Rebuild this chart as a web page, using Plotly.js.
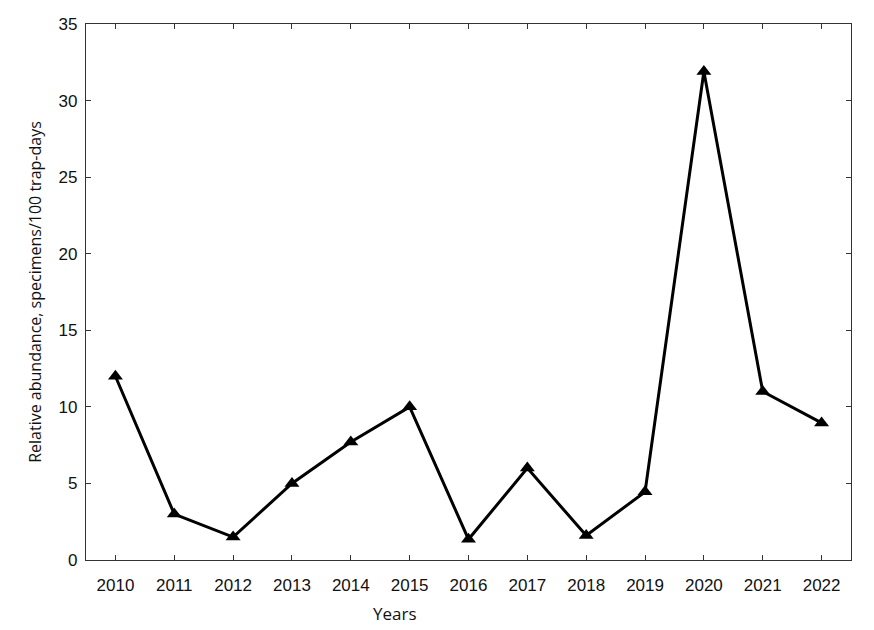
<!DOCTYPE html>
<html>
<head>
<meta charset="utf-8">
<script src="https://cdn.plot.ly/plotly-3.0.1.min.js"></script>
<style>
  html, body { margin: 0; padding: 0; background: #ffffff; }
  #chart { width: 874px; height: 630px; }
</style>
</head>
<body>
<div id="chart"></div>
<script>
const years = [2010, 2011, 2012, 2013, 2014, 2015, 2016, 2017, 2018, 2019, 2020, 2021, 2022];
const abundance = [12, 3, 1.5, 5, 7.7, 10, 1.35, 6, 1.6, 4.45, 31.9, 11, 8.95];
const yTicks = [0, 5, 10, 15, 20, 25, 30, 35];

const trace = {
  type: "scatter",
  mode: "lines+markers",
  x: years,
  y: abundance,
  line: { color: "#000000", width: 3 },
  marker: { symbol: "triangle-up", size: 13, color: "#000000" },
  cliponaxis: false,
  showlegend: false
};

const axisStyle = {
  showline: true,
  linecolor: "#333333",
  linewidth: 1.2,
  mirror: "ticks",
  ticks: "inside",
  ticklen: 5,
  tickcolor: "#333333",
  showgrid: false,
  zeroline: false,
  tickfont: { family: "Liberation Sans, Arial, sans-serif", size: 17, color: "#111111" }
};

const layout = {
  width: 874,
  height: 630,
  paper_bgcolor: "#ffffff",
  plot_bgcolor: "#ffffff",
  margin: { l: 86, r: 23, t: 24, b: 70 },
  xaxis: Object.assign({}, axisStyle, {
    range: [2009.5, 2022.5],
    tickmode: "array",
    tickvals: years,
    ticktext: years.map(String),
    ticklabelstandoff: 9
  }),
  yaxis: Object.assign({}, axisStyle, {
    range: [0, 35],
    tickmode: "array",
    tickvals: yTicks,
    ticklabelstandoff: 4,
    title: {
      text: "Relative abundance, specimens/100 trap-days",
      font: { family: "Open Sans, sans-serif", size: 16, color: "#111111" },
      standoff: 12
    }
  }),
  annotations: [
    {
      xref: "paper",
      yref: "paper",
      x: (395 - 86) / 765,
      y: -53 / 536,
      text: "Years",
      showarrow: false,
      xanchor: "center",
      yanchor: "middle",
      font: { family: "Open Sans, sans-serif", size: 17, color: "#111111" }
    }
  ]
};

Plotly.newPlot("chart", [trace], layout, { displayModeBar: false, staticPlot: true });
</script>
</body>
</html>
